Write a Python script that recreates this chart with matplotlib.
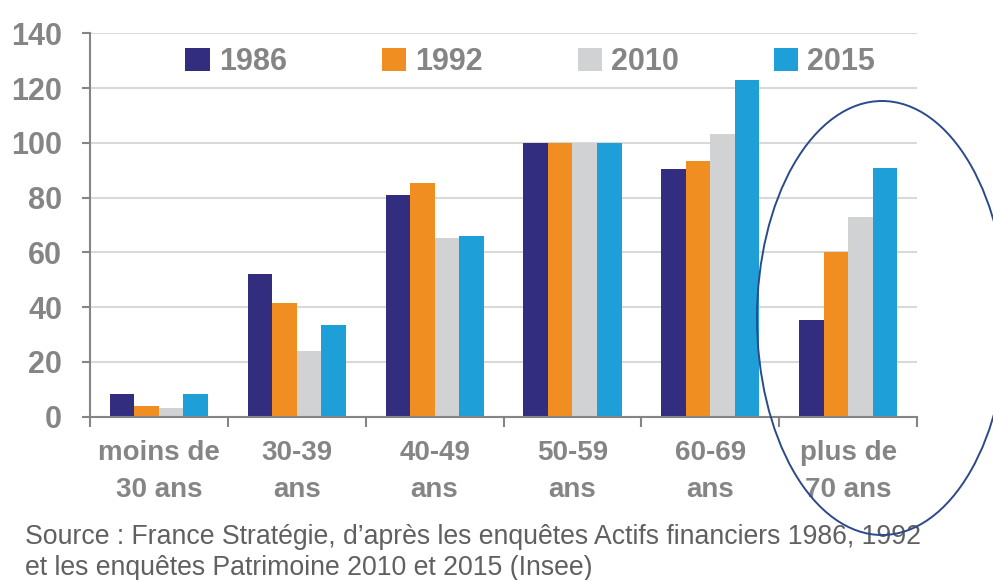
import matplotlib.pyplot as plt
import numpy as np
from matplotlib.patches import Ellipse, Patch

# données
categories = ['moins de\n30 ans', '30-39\nans', '40-49\nans', '50-59\nans', '60-69\nans', 'plus de\n70 ans']
years = ['1986', '1992', '2010', '2015']
v1986 = [8.3, 52.1, 80.9, 100, 90.3, 35.3]
v1992 = [3.9, 41.4, 85.2, 100, 93.4, 60.2]
v2010 = [3.0, 24.0, 65.1, 100, 103.4, 72.8]
v2015 = [8.3, 33.4, 66.0, 100, 122.9, 90.9]
colors = ['#332d7f', '#f18e21', '#d1d2d4', '#1e9fd8']

grey = '#858585'
fig = plt.figure(figsize=(9.93, 5.80), dpi=100)
ax = fig.add_axes([0.0906, 0.2816, 0.833, 0.661])

x = np.arange(len(categories))
w = 0.178
series = [v1986, v1992, v2010, v2015]
for i, vals in enumerate(series):
    ax.bar(x + (i - 1.5) * w, vals, w, color=colors[i], zorder=3)

ax.set_xlim(-0.5, len(categories) - 0.5)
ax.set_ylim(0, 140)
ax.set_yticks(np.arange(0, 141, 20))
ax.grid(axis='y', color='#d9d9d9', linewidth=1.5, zorder=0)

for s in ['top', 'right']:
    ax.spines[s].set_visible(False)
for s in ['left', 'bottom']:
    ax.spines[s].set_color(grey)
    ax.spines[s].set_linewidth(1.5)
    ax.spines[s].set_zorder(4)

ax.tick_params(axis='y', length=6, width=1.5, color=grey, pad=14,
               labelsize=22, labelcolor=grey)
for t in ax.get_yticklabels():
    t.set_fontweight('bold')
    t.set_family('Liberation Sans')

ax.set_xticks(x)
ax.set_xticklabels(categories, family='Liberation Sans',
                   fontweight='bold', fontsize=20, color=grey, linespacing=1.55)
ax.tick_params(axis='x', length=0, pad=17)
ax.set_xticks(np.arange(-0.5, len(categories)), minor=True)
ax.tick_params(axis='x', which='minor', length=7, width=1.5, color=grey)

handles = [Patch(facecolor=c) for c in colors]
leg = fig.legend(handles, years, loc='center', bbox_to_anchor=(0.534, 0.893), ncol=4,
                 frameon=False, prop={'family': 'Liberation Sans', 'weight': 'bold', 'size': 22},
                 handlelength=0.8, handleheight=0.8, handletextpad=0.3, columnspacing=3.1)
for t in leg.get_texts():
    t.set_color(grey)

fig.text(0.025, 0.062, "Source : France Stratégie, d\u2019après les enquêtes Actifs financiers 1986, 1992",
         family='Liberation Sans', fontsize=19.2, color='#606060')
fig.text(0.025, 0.008, "et les enquêtes Patrimoine 2010 et 2015 (Insee)",
         family='Liberation Sans', fontsize=19.2, color='#606060')

# ellipse autour des plus de 70 ans
ell = Ellipse((882 / 993, 1 - 318 / 580), 250 / 993, 434 / 580, transform=fig.transFigure,
              fill=False, edgecolor='#2a4a8c', linewidth=1.4, zorder=10)
fig.add_artist(ell)

fig.savefig('out.png', dpi=100)
